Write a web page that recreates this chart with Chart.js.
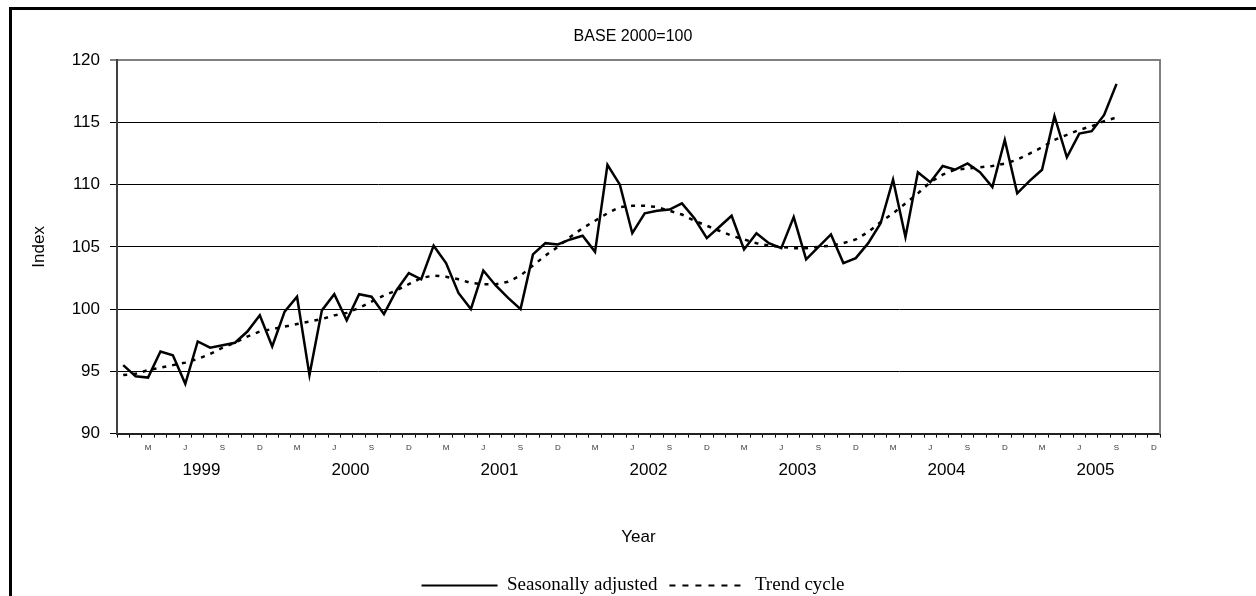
<!DOCTYPE html>
<html>
<head>
<meta charset="utf-8">
<script src="https://cdn.jsdelivr.net/npm/chart.js@4.4.1/dist/chart.umd.min.js"></script>
<style>
  html, body { margin: 0; padding: 0; background: #fff; overflow: hidden; }
  #frame { position: absolute; left: 9px; top: 7px; width: 2000px; height: 2000px;
           border-left: 3px solid #000; border-top: 3px solid #000; }
  #chart { position: absolute; left: 0; top: 0; }
</style>
</head>
<body>
<div id="frame"></div>
<canvas id="chart" width="1256" height="605"></canvas>
<script>
const years = ['1999', '2000', '2001', '2002', '2003', '2004', '2005'];
const monthTicks = ['', '', 'M', '', '', 'J', '', '', 'S', '', '', 'D'];

// Jan 1999 .. Sep 2005
const seasonal = [
  95.5, 94.6, 94.5, 96.6, 96.3, 94.0, 97.4, 96.9, 97.1, 97.3, 98.2, 99.5,
  97.0, 99.8, 101.0, 94.7, 99.9, 101.2, 99.1, 101.2, 101.0, 99.6, 101.5, 102.9,
  102.4, 105.1, 103.7, 101.3, 100.0, 103.1, 101.9, 100.9, 100.0, 104.4, 105.3, 105.2,
  105.6, 105.9, 104.6, 111.6, 110.0, 106.1, 107.7, 107.9, 108.0, 108.5, 107.3, 105.7,
  106.6, 107.5, 104.8, 106.1, 105.3, 104.9, 107.4, 104.0, 105.0, 106.0, 103.7, 104.1,
  105.3, 106.9, 110.4, 105.8, 111.0, 110.2, 111.5, 111.2, 111.7, 111.0, 109.8, 113.6,
  109.3, 110.3, 111.2, 115.5, 112.2, 114.1, 114.3, 115.6, 118.1
];
const trend = [
  94.7, 94.8, 95.1, 95.3, 95.5, 95.7, 96.0, 96.4, 96.9, 97.3, 97.8, 98.2,
  98.4, 98.6, 98.8, 99.0, 99.2, 99.5, 99.7, 100.1, 100.6, 101.1, 101.5, 102.0,
  102.5, 102.7, 102.6, 102.4, 102.1, 102.0, 102.0, 102.2, 102.7, 103.5, 104.3, 105.0,
  105.8, 106.5, 107.1, 107.7, 108.2, 108.3, 108.3, 108.2, 107.9, 107.6, 107.1, 106.7,
  106.3, 105.9, 105.6, 105.3, 105.1, 105.0, 104.9, 104.9, 105.0, 105.1, 105.3, 105.6,
  106.2, 107.0, 107.7, 108.5, 109.3, 110.2, 110.8, 111.2, 111.3, 111.4, 111.5, 111.7,
  112.0, 112.5, 113.0, 113.6, 114.0, 114.4, 114.7, 115.1, 115.4
];
const yTicks = [90, 95, 100, 105, 110, 115, 120];

const categories = years.flatMap(y => monthTicks.map((m, i) => y + '-' + (i + 1)));

Chart.defaults.font.family = "'Liberation Sans', Arial, sans-serif";
Chart.defaults.color = '#000';

new Chart(document.getElementById('chart'), {
  type: 'line',
  data: {
    labels: categories,
    datasets: [
      {
        label: 'Seasonally adjusted',
        data: seasonal,
        borderColor: '#000',
        borderWidth: 2.5,
        pointRadius: 0,
        tension: 0
      },
      {
        label: 'Trend cycle',
        data: trend,
        borderColor: '#000',
        borderWidth: 2.5,
        borderDash: [4, 6],
        pointRadius: 0,
        tension: 0
      }
    ]
  },
  options: {
    responsive: false,
    animation: false,
    layout: { padding: { left: 20, right: 10, top: 27, bottom: 0 } },
    plugins: {
      title: {
        display: true,
        text: 'BASE 2000=100',
        font: { size: 16, weight: 'normal' },
        padding: { top: 0, bottom: 14 }
      },
      legend: {
        position: 'bottom',
        labels: {
          usePointStyle: true,
          pointStyle: 'line',
          pointStyleWidth: 76,
          boxHeight: 19,
          padding: 12,
          font: { family: "'Liberation Serif', 'Times New Roman', serif", size: 19 },
          generateLabels: chart => {
            const items = Chart.defaults.plugins.legend.labels.generateLabels(chart);
            items.forEach(it => {
              const ds = chart.data.datasets[it.datasetIndex];
              it.lineDash = ds.borderDash ? [6, 7] : [];
              it.lineWidth = 2;
            });
            return items;
          }
        }
      },
      tooltip: { enabled: false }
    },
    scales: {
      x: {
        type: 'category',
        offset: true,
        grid: { offset: true, drawOnChartArea: false, tickLength: 4, color: '#000' },
        border: { color: '#222', width: 2 },
        ticks: {
          autoSkip: false,
          maxRotation: 0,
          padding: 5,
          font: { size: 8 },
          color: '#333',
          callback: (v, i) => monthTicks[i % 12]
        }
      },
      yr: {
        type: 'linear',
        position: 'bottom',
        weight: 1,
        min: 0,
        max: 84,
        afterBuildTicks: s => { s.ticks = years.map((y, k) => ({ value: 12 * k + 6.8 })); },
        grid: { display: false, drawTicks: false },
        border: { display: false },
        ticks: {
          autoSkip: false,
          maxRotation: 0,
          padding: 3,
          font: { size: 17 },
          callback: (v, i) => years[i]
        },
        title: { display: true, text: 'Year', font: { size: 17 }, padding: { top: 44, bottom: 16 } }
      },
      y: {
        min: 90,
        max: 120,
        afterBuildTicks: s => { s.ticks = yTicks.map(v => ({ value: v })); },
        afterFit: s => { s.width = 97; },
        grid: {
          color: c => c.tick && c.tick.value === 120 ? '#808080' : '#000',
          lineWidth: c => c.tick && c.tick.value === 120 ? 2 : 1,
          tickColor: '#000',
          tickWidth: 1,
          tickLength: 7
        },
        border: { color: '#404040', width: 2 },
        ticks: { padding: 10, font: { size: 17 } },
        title: { display: true, text: 'Index', font: { size: 17 }, padding: { top: 9, bottom: 0 } }
      },
      y2: {
        position: 'right',
        min: 90,
        max: 120,
        afterFit: s => { s.width = 86; },
        grid: { display: false },
        ticks: { display: false },
        border: { color: '#808080', width: 2 }
      }
    }
  }
});
</script>
</body>
</html>
